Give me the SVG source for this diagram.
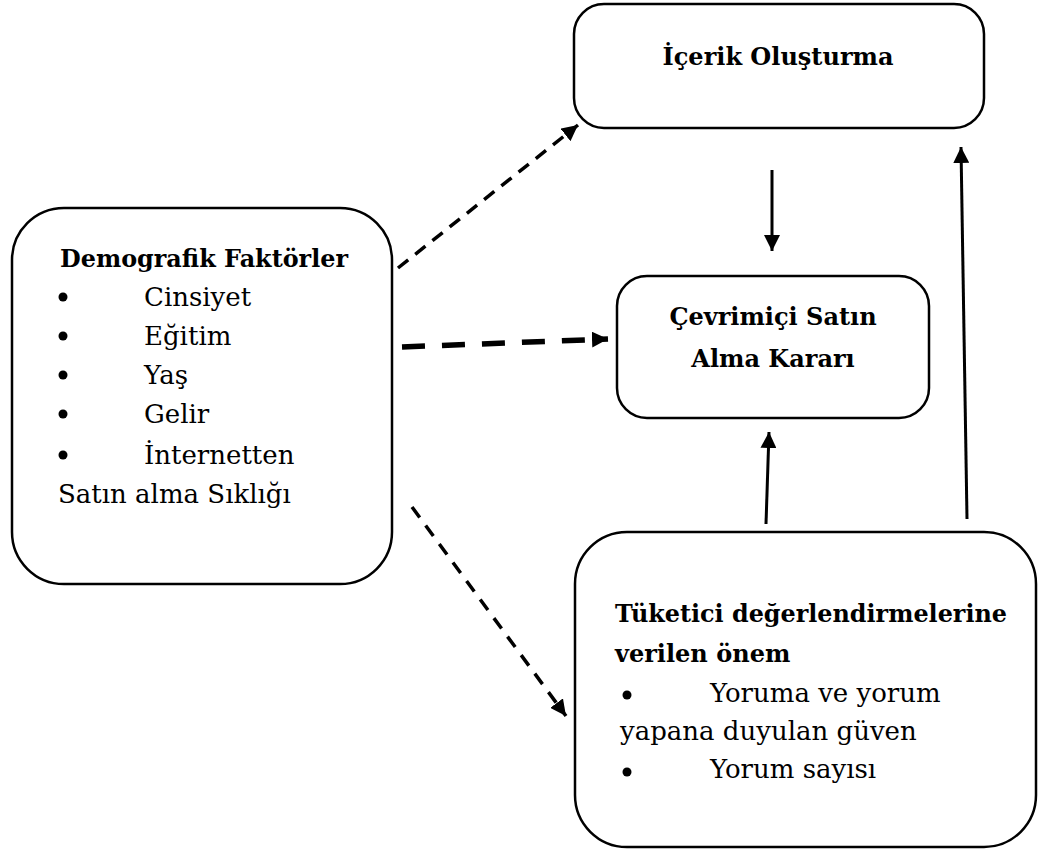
<svg xmlns="http://www.w3.org/2000/svg" width="1039" height="851" viewBox="0 0 1039 851">
<defs>
<style>
.box{fill:#fff;stroke:#000;stroke-width:2.5}
.t{font-family:"DejaVu Serif","Liberation Serif",serif;font-size:26px;fill:#000}
.b{font-weight:bold;font-size:24px}
.c{stroke:#000;fill:none}
</style>
<marker id="ah" markerUnits="userSpaceOnUse" markerWidth="18" markerHeight="16" refX="16" refY="8" orient="auto">
<path d="M0,0 L16,8 L0,16 Z" fill="#000"/>
</marker>
</defs>
<rect width="1039" height="851" fill="#fff"/>
<g id="demografik">
<rect class="box" x="12" y="208" width="380" height="376" rx="52"/>
<text class="t b" x="60" y="267" textLength="288" lengthAdjust="spacingAndGlyphs">Demografik Faktörler</text>
<circle cx="63" cy="297" r="4.5"/><text class="t" x="144" y="306">Cinsiyet</text>
<circle cx="63" cy="336" r="4.5"/><text class="t" x="144" y="345">Eğitim</text>
<circle cx="63" cy="375" r="4.5"/><text class="t" x="144" y="384">Yaş</text>
<circle cx="63" cy="414" r="4.5"/><text class="t" x="144" y="423">Gelir</text>
<circle cx="63" cy="455" r="4.5"/><text class="t" x="144" y="464">İnternetten</text>
<text class="t" x="58" y="503">Satın alma Sıklığı</text>
</g>
<g id="icerik">
<rect class="box" x="574" y="4" width="410" height="124" rx="30"/>
<text class="t b" x="778" y="65" text-anchor="middle">İçerik Oluşturma</text>
</g>
<g id="karar">
<rect class="box" x="617" y="276" width="312" height="142" rx="30"/>
<text class="t b" x="773" y="325" text-anchor="middle">Çevrimiçi Satın</text>
<text class="t b" x="773" y="367" text-anchor="middle">Alma Kararı</text>
</g>
<g id="tuketici">
<rect class="box" x="575" y="532" width="461" height="315" rx="52"/>
<text class="t b" x="615" y="622" textLength="392" lengthAdjust="spacingAndGlyphs">Tüketici değerlendirmelerine</text>
<text class="t b" x="615" y="662">verilen önem</text>
<circle cx="627" cy="695" r="4.5"/><text class="t" x="710" y="702">Yoruma ve yorum</text>
<text class="t" x="620" y="740">yapana duyulan güven</text>
<circle cx="627" cy="772" r="4.5"/><text class="t" x="710" y="778">Yorum sayısı</text>
</g>
<g id="connectors">
<line class="c" x1="398" y1="268" x2="578" y2="125" stroke-width="3.5" stroke-dasharray="13 9" marker-end="url(#ah)"/>
<line class="c" x1="402" y1="347" x2="608" y2="339" stroke-width="5.5" stroke-dasharray="23 17" marker-end="url(#ah)"/>
<line class="c" x1="412" y1="507" x2="566" y2="716" stroke-width="3.5" stroke-dasharray="13 10" marker-end="url(#ah)"/>
<line class="c" x1="772" y1="170" x2="772" y2="251" stroke-width="3" marker-end="url(#ah)"/>
<line class="c" x1="766" y1="524" x2="769" y2="432" stroke-width="3" marker-end="url(#ah)"/>
<line class="c" x1="967" y1="519" x2="961" y2="147" stroke-width="3" marker-end="url(#ah)"/>
</g>
</svg>
